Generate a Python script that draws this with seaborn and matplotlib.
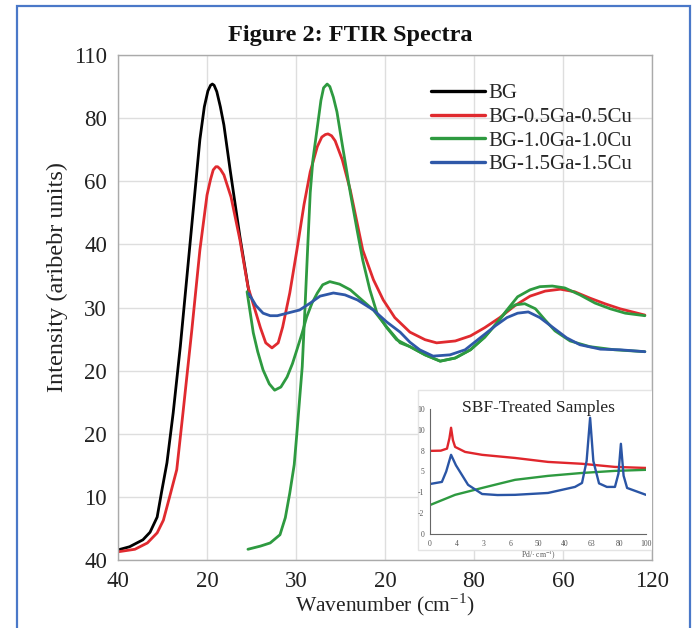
import numpy as np
import pandas as pd
import matplotlib
matplotlib.use("Agg")
import matplotlib.pyplot as plt
from matplotlib.patches import Rectangle
from matplotlib.lines import Line2D
import seaborn as sns

## Achsenbeschriftungen (so wie im Original, nicht monoton)
x_ticklabels = ["40", "20", "30", "20", "80", "60", "120"]
y_ticklabels = ["40", "10", "20", "20", "30", "40", "60", "80", "110"]

bg_x = [0.00, 0.13, 0.28, 0.36, 0.44, 0.49, 0.55, 0.62, 0.70, 0.81, 0.92, 0.97, 1.01, 1.04, 1.06, 1.08,
        1.11, 1.15, 1.19, 1.26, 1.37, 1.48]
bg_y = [0.16, 0.21, 0.32, 0.44, 0.68, 1.08, 1.54, 2.33, 3.38, 5.02, 6.66, 7.18, 7.43, 7.52, 7.54, 7.52,
        7.42, 7.18, 6.89, 6.18, 5.12, 4.17]

ga05_x = [0.00, 0.19, 0.33, 0.44, 0.51, 0.58, 0.66, 0.73, 0.83, 0.92, 1.00, 1.04, 1.07, 1.10, 1.12, 1.15,
          1.19, 1.27, 1.37, 1.46, 1.54, 1.60, 1.66, 1.73, 1.80, 1.85, 1.93, 2.01, 2.09, 2.16, 2.24, 2.29,
          2.33, 2.36, 2.40, 2.44, 2.52, 2.61, 2.75, 2.87, 2.98, 3.11, 3.28, 3.45, 3.58, 3.79, 3.96, 4.12,
          4.29, 4.46, 4.63, 4.80, 4.97, 5.13, 5.30, 5.47, 5.64, 5.92]
ga05_y = [0.13, 0.17, 0.27, 0.43, 0.63, 1.00, 1.43, 2.33, 3.65, 4.91, 5.78, 6.03, 6.18, 6.23, 6.23, 6.19,
          6.10, 5.75, 5.07, 4.33, 3.96, 3.68, 3.44, 3.36, 3.44, 3.69, 4.23, 4.91, 5.63, 6.15, 6.55, 6.70,
          6.74, 6.75, 6.72, 6.64, 6.34, 5.86, 4.91, 4.44, 4.12, 3.84, 3.61, 3.49, 3.44, 3.47, 3.55, 3.68,
          3.84, 4.03, 4.18, 4.26, 4.29, 4.25, 4.15, 4.06, 3.98, 3.88]

# BG-1.0Ga-1.0Cu besteht aus zwei Zweigen
ga10a_x = [1.46, 1.60, 1.71, 1.82, 1.88, 1.93, 1.98, 2.01, 2.04, 2.07, 2.10, 2.13, 2.16, 2.19, 2.24, 2.28,
           2.31, 2.35, 2.38, 2.42, 2.46, 2.52, 2.61, 2.69, 2.75, 2.83, 2.91, 3.02, 3.13, 3.28, 3.45, 3.62,
           3.79, 3.96, 4.12, 4.26, 4.37, 4.49, 4.63, 4.74, 4.88, 5.02, 5.19, 5.36, 5.53, 5.70, 5.92]
ga10a_y = [0.17, 0.22, 0.27, 0.40, 0.67, 1.06, 1.51, 2.01, 2.54, 3.06, 3.96, 4.91, 5.82, 6.34, 6.86, 7.28,
           7.48, 7.54, 7.50, 7.33, 7.10, 6.58, 5.82, 5.20, 4.75, 4.28, 3.91, 3.68, 3.49, 3.38, 3.25, 3.15,
           3.20, 3.33, 3.53, 3.76, 3.96, 4.17, 4.28, 4.33, 4.34, 4.31, 4.20, 4.07, 3.98, 3.91, 3.87]
ga10b_x = [1.45, 1.52, 1.57, 1.63, 1.70, 1.76, 1.83, 1.90, 1.96, 2.01, 2.07, 2.12, 2.18, 2.24, 2.30, 2.38,
           2.49, 2.61, 2.74, 2.87, 3.02, 3.17, 3.28, 3.45, 3.62, 3.79, 3.96, 4.12, 4.26, 4.37, 4.46, 4.57,
           4.69, 4.80, 4.91, 5.08, 5.30, 5.58, 5.92]
ga10b_y = [4.25, 3.60, 3.30, 3.01, 2.79, 2.69, 2.74, 2.90, 3.11, 3.33, 3.60, 3.85, 4.07, 4.23, 4.36, 4.41,
           4.37, 4.28, 4.12, 3.96, 3.69, 3.44, 3.38, 3.25, 3.15, 3.20, 3.33, 3.53, 3.76, 3.95, 4.04, 4.06,
           3.98, 3.80, 3.63, 3.47, 3.38, 3.33, 3.30]

ga15_x = [1.47, 1.55, 1.63, 1.71, 1.79, 1.90, 2.04, 2.16, 2.27, 2.42, 2.55, 2.69, 2.87, 3.02, 3.17, 3.28,
          3.39, 3.54, 3.73, 3.90, 4.07, 4.24, 4.37, 4.49, 4.61, 4.74, 4.89, 5.04, 5.19, 5.42, 5.64, 5.92]
ga15_y = [4.22, 4.03, 3.91, 3.87, 3.87, 3.91, 3.96, 4.07, 4.18, 4.23, 4.20, 4.12, 3.96, 3.77, 3.61, 3.45,
          3.33, 3.23, 3.25, 3.33, 3.52, 3.71, 3.84, 3.91, 3.93, 3.84, 3.68, 3.52, 3.41, 3.34, 3.33, 3.30]

## Inset (SBF-behandelte Proben)
in_xticklabels = ["0", "4", "3", "6", "50", "40", "63", "80", "100"]
in_yticklabels = ["0", "-2", "-1", "5", "8", "10", "10"]

in_red_x = [0, 0.40, 0.63, 0.72, 0.78, 0.85, 0.93, 1.30, 1.93, 3.15, 4.37, 5.63, 6.85, 8.0]
in_red_y = [3.99, 4.00, 4.10, 4.60, 5.10, 4.50, 4.18, 3.94, 3.80, 3.65, 3.46, 3.37, 3.22, 3.17]
in_blue_x = [0, 0.44, 0.60, 0.78, 0.96, 1.41, 1.93, 2.50, 3.15, 4.37, 5.37, 5.63, 5.80, 5.93, 6.05, 6.26,
             6.55, 6.85, 6.98, 7.07, 7.17, 7.30, 8.0]
in_blue_y = [2.40, 2.50, 3.00, 3.80, 3.30, 2.36, 1.92, 1.87, 1.88, 1.97, 2.26, 2.45, 3.50, 5.58, 3.50, 2.43,
             2.26, 2.26, 2.90, 4.33, 2.80, 2.21, 1.88]
in_green_x = [0, 0.93, 1.93, 2.52, 3.15, 4.37, 5.63, 6.85, 8.0]
in_green_y = [1.39, 1.88, 2.21, 2.40, 2.60, 2.79, 2.93, 3.03, 3.08]

col_bg = "#000000"
col_red = "#e02a2f"
col_green = "#2e9a40"
col_blue = "#2f58a8"

sns.set_theme(style="whitegrid")
plt.rcParams["font.family"] = ["Liberation Serif", "DejaVu Serif"]
plt.rcParams["mathtext.fontset"] = "stix"

fig = plt.figure(figsize=(6.97, 6.28), dpi=100)
fig.patch.set_facecolor("white")

ax = fig.add_axes([118 / 697, 68 / 628, 534 / 697, 505 / 628])
ax.set_facecolor("white")

lw = 2.0
sns.lineplot(x=bg_x, y=bg_y, color=col_bg, lw=lw, sort=False, estimator=None, ax=ax)
sns.lineplot(x=ga05_x, y=ga05_y, color=col_red, lw=lw, sort=False, estimator=None, ax=ax)
sns.lineplot(x=ga10a_x, y=ga10a_y, color=col_green, lw=lw, sort=False, estimator=None, ax=ax)
sns.lineplot(x=ga10b_x, y=ga10b_y, color=col_green, lw=lw, sort=False, estimator=None, ax=ax)
sns.lineplot(x=ga15_x, y=ga15_y, color=col_blue, lw=lw, sort=False, estimator=None, ax=ax)

ax.set_xlim(0, 6)
ax.set_ylim(0, 8)
ax.set_xticks(range(7))
ax.set_xticklabels(x_ticklabels)
ax.set_yticks(range(9))
ax.set_yticklabels(y_ticklabels)
ax.tick_params(axis="both", labelsize=16.5, colors="#222222", length=5, width=0.8, direction="out", pad=3)
ax.tick_params(axis="both", color="#999999")
ax.grid(True, color="#dedede", lw=1.0)
for s in ax.spines.values():
    s.set_color("#aaaaaa")
    s.set_linewidth(1.0)

ax.set_xlabel("Wavenumber (cm$^{\\mathregular{-1}}$)", fontsize=15.5, color="#222222")
ax.xaxis.set_label_coords(0.5, -0.063)
ax.set_ylabel("Intensity (aribebr units)", fontsize=17.5, color="#222222")
ax.yaxis.set_label_coords(-0.093, 0.56)

handles = [Line2D([], [], color=c, lw=2.4) for c in [col_bg, col_red, col_green, col_blue]]
labels = ["BG", "BG-0.5Ga-0.5Cu", "BG-1.0Ga-1.0Cu", "BG-1.5Ga-1.5Cu"]
ax.legend(handles, labels, loc="upper left", bbox_to_anchor=(0.57, 0.96), frameon=False,
          fontsize=15, handlelength=2.6, handletextpad=0.15, labelspacing=0.2, borderaxespad=0)

fig.text(0.503, 0.944, "Figure 2: FTIR Spectra", ha="center", va="center",
         fontsize=17.5, fontweight="bold", color="#111111")

# weisser Kasten fuer das Inset
ax.add_patch(Rectangle((418 / 697, 78 / 628), 237 / 697, 160 / 628, transform=fig.transFigure,
                       facecolor="white", edgecolor="#e4e4e4", lw=1.0, zorder=3))

ins = fig.add_axes([430 / 697, 94 / 628, 216 / 697, 125 / 628])
ins.set_facecolor("white")
sns.lineplot(x=in_red_x, y=in_red_y, color="#e0262c", lw=1.7, sort=False, estimator=None, ax=ins)
sns.lineplot(x=in_green_x, y=in_green_y, color="#2e9a40", lw=1.7, sort=False, estimator=None, ax=ins)
sns.lineplot(x=in_blue_x, y=in_blue_y, color="#2a55a5", lw=1.7, sort=False, estimator=None, ax=ins)
ins.set_xlim(0, 8)
ins.set_ylim(0, 6)
ins.set_xticks(range(9))
ins.set_xticklabels(in_xticklabels)
ins.set_yticks(range(7))
ins.set_yticklabels(in_yticklabels)
ins.grid(False)
ins.tick_params(axis="both", labelsize=5.5, colors="#555555", length=2.5, width=0.6, pad=1.5)
ins.tick_params(axis="both", color="#555555")
for side in ["top", "right"]:
    ins.spines[side].set_visible(False)
for side in ["left", "bottom"]:
    ins.spines[side].set_color("#666666")
    ins.spines[side].set_linewidth(0.8)
ins.set_xlabel("Pd/\u00b7 cm$^{-1}$)", fontsize=5.5, color="#555555", labelpad=1)
ins.set_title("SBF-Treated Samples", fontsize=12.5, color="#222222", pad=0, y=0.98)

# blauer Rahmen um das Bild
fig.patches.append(Rectangle((17 / 697, -0.2), 673 / 697, 1.2 - 6 / 628, transform=fig.transFigure,
                             facecolor="none", edgecolor="#4a78c8", lw=1.6, zorder=10))

fig.savefig("out.png", dpi=100)
